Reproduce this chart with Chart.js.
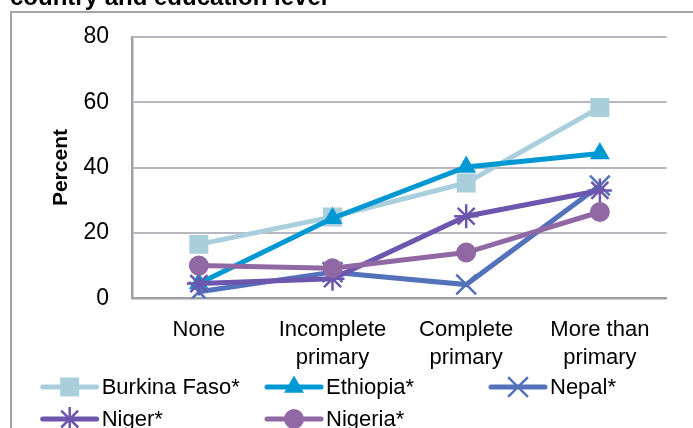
<!DOCTYPE html>
<html>
<head>
<meta charset="utf-8">
<script src="https://cdn.jsdelivr.net/npm/chart.js@4/dist/chart.umd.min.js"></script>
<style>
  html, body { margin: 0; padding: 0; background: #fff; }
  #wrap { position: relative; width: 693px; height: 428px; }
</style>
</head>
<body>
<div id="wrap"><canvas id="lineChart" width="693" height="428"></canvas></div>
<script>
// chart data
var categories = ['None', ['Incomplete', 'primary'], ['Complete', 'primary'], ['More than', 'primary']];
var seriesNames = ['Burkina Faso*', 'Ethiopia*', 'Nepal*', 'Niger*', 'Nigeria*'];
var burkinaFaso = [16.5, 24.9, 35.3, 58.4];
var ethiopia = [4.5, 24.5, 40.2, 44.3];
var nepal = [2, 8, 4.2, 34.5];
var niger = [4.5, 6, 25.1, 33];
var nigeria = [10, 9.2, 14, 26.4];
var yTicks = [0, 20, 40, 60, 80];
var chartTitle = 'country and education level';
var yTitle = 'Percent';

var FONT = '"Liberation Sans", Arial, sans-serif';

function makeSet(i, data, color, style, radius, bw) {
  return {
    label: seriesNames[i],
    data: data,
    borderColor: color,
    backgroundColor: color,
    borderWidth: 5,
    pointStyle: style,
    pointRadius: radius,
    pointHoverRadius: radius,
    pointBorderWidth: bw,
    pointBorderColor: color,
    pointBackgroundColor: color,
    tension: 0,
    order: 4 - i
  };
}

var datasets = [
  makeSet(0, burkinaFaso, '#a9cfdd', 'rect', 13.4, 0),
  makeSet(1, ethiopia, '#0098d3', 'triangle', 11.5, 0),
  makeSet(2, nepal, '#5472b9', 'crossRot', 14, 2.5),
  makeSet(3, niger, '#6c56ae', 'star', 12, 2.5),
  makeSet(4, nigeria, '#9068a3', 'circle', 10, 0)
];

// frame, cut-off heading and the legend drawn at fixed columns
var decorPlugin = {
  id: 'decor',
  beforeDraw: function(chart) {
    var ctx = chart.ctx;
    ctx.save();
    ctx.strokeStyle = '#a3a3a3';
    ctx.lineWidth = 2;
    ctx.strokeRect(11, 12, 760, 500);
    ctx.fillStyle = '#000';
    ctx.font = 'bold 24px ' + FONT;
    ctx.textBaseline = 'alphabetic';
    ctx.fillText(chartTitle, 10, 5);
    ctx.restore();
  },
  afterDraw: function(chart) {
    var ctx = chart.ctx;
    var cols = [42.7, 267, 491];
    var rows = [387, 419];
    ctx.save();
    chart.data.datasets.forEach(function(ds, i) {
      var x = cols[i % 3];
      var y = rows[Math.floor(i / 3)];
      ctx.strokeStyle = ds.borderColor;
      ctx.lineWidth = 5;
      ctx.lineCap = 'round';
      ctx.beginPath();
      ctx.moveTo(x, y);
      ctx.lineTo(x + 54, y);
      ctx.stroke();
      ctx.fillStyle = ds.pointBackgroundColor;
      ctx.lineWidth = ds.pointBorderWidth;
      ctx.lineCap = 'butt';
      Chart.helpers.drawPoint(ctx, {
        pointStyle: ds.pointStyle,
        radius: ds.pointRadius,
        rotation: 0,
        borderWidth: ds.pointBorderWidth
      }, x + 27, y);
      ctx.fillStyle = '#000';
      ctx.font = '22px ' + FONT;
      ctx.textBaseline = 'middle';
      ctx.textAlign = 'left';
      ctx.fillText(ds.label, x + 59, y + 1);
    });
    ctx.restore();
  }
};

var ctx = document.getElementById('lineChart').getContext('2d');
var chart = new Chart(ctx, {
  type: 'line',
  data: { labels: categories, datasets: datasets },
  options: {
    responsive: false,
    animation: false,
    events: [],
    layout: { padding: { left: 40, right: 26.3, top: 31.7, bottom: 0 } },
    plugins: {
      legend: { display: false },
      tooltip: { enabled: false },
      title: { display: false }
    },
    scales: {
      x: {
        offset: true,
        grid: { display: false, drawTicks: false },
        border: { display: true, color: '#a0a0a8', width: 2.5 },
        ticks: {
          color: '#000',
          padding: 17.7,
          maxRotation: 0,
          autoSkip: false,
          font: { family: FONT, size: 22, lineHeight: 1.27 }
        },
        afterFit: function(scale) { scale.height = 428 - 298.3; }
      },
      y: {
        min: 0,
        max: 80,
        afterBuildTicks: function(scale) {
          scale.ticks = yTicks.map(function(v) { return { value: v }; });
        },
        grid: { color: '#b8b8c0', lineWidth: 2, drawTicks: false },
        border: { display: true, color: '#a0a0a8', width: 2.5 },
        ticks: {
          color: '#000',
          padding: 23,
          font: { family: FONT, size: 23 }
        },
        title: {
          display: true,
          text: yTitle,
          color: '#000',
          padding: { top: 9, bottom: 0 },
          font: { family: FONT, size: 21, weight: 'bold', lineHeight: 1.2 }
        },
        afterFit: function(scale) { scale.width = 132 - 40; }
      }
    }
  },
  plugins: [decorPlugin]
});
</script>
</body>
</html>
